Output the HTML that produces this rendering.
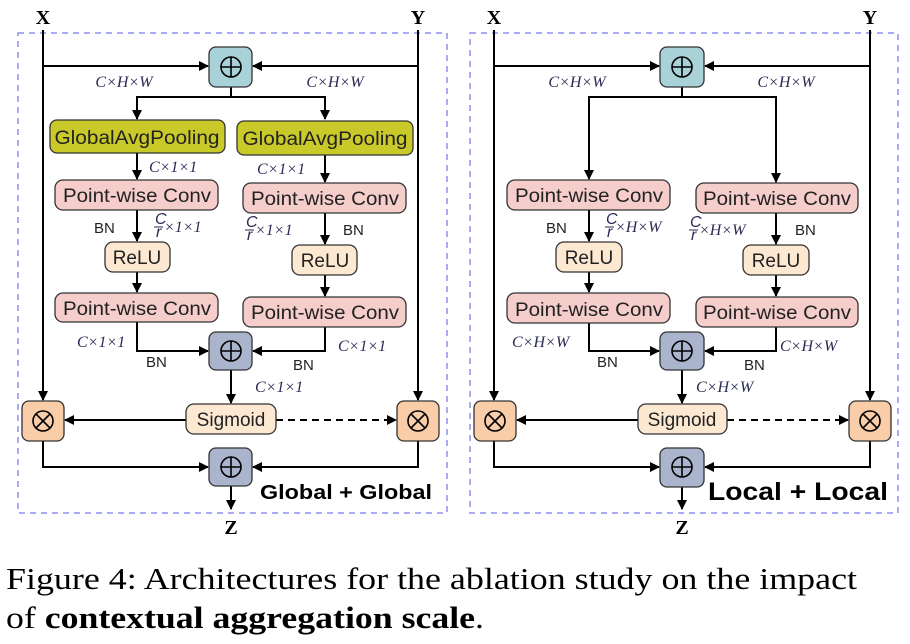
<!DOCTYPE html>
<html><head><meta charset="utf-8"><style>
html,body{margin:0;padding:0;background:#fff;width:910px;height:644px;overflow:hidden}
svg text{font-family:"Liberation Sans",sans-serif}
.s{font-family:"Liberation Serif",serif}
.m{font-family:"Liberation Serif",serif;font-style:italic;font-size:16px;fill:#2a2a55}
.b{font-size:15px;fill:#222}
.n{font-size:19px;fill:#222}
</style></head><body>
<svg width="910" height="644" viewBox="0 0 910 644" xmlns="http://www.w3.org/2000/svg">
<defs>
<marker id="a" viewBox="0 0 10 10" refX="9" refY="5" markerWidth="5" markerHeight="5" orient="auto"><path d="M0,0 L10,5 L0,10 z" fill="#000"/></marker>
<g id="plus"><circle cx="0" cy="0" r="10" fill="none" stroke="#000" stroke-width="1.6"/><line x1="-10" y1="0" x2="10" y2="0" stroke="#000" stroke-width="1.6"/><line x1="0" y1="-10" x2="0" y2="10" stroke="#000" stroke-width="1.6"/></g>
<g id="mul"><circle cx="0" cy="0" r="10" fill="none" stroke="#000" stroke-width="1.6"/><line x1="-7" y1="-7" x2="7" y2="7" stroke="#000" stroke-width="1.6"/><line x1="7" y1="-7" x2="-7" y2="7" stroke="#000" stroke-width="1.6"/></g>
</defs>

<!-- LEFT PANEL -->
<rect x="18" y="33" width="429" height="480" fill="none" stroke="#8f8ff0" stroke-width="1.5" stroke-dasharray="6,5"/>
<g stroke="#000" stroke-width="2" fill="none">
<line x1="43" y1="30" x2="43" y2="400" marker-end="url(#a)"/>
<line x1="418" y1="30" x2="418" y2="400" marker-end="url(#a)"/>
<line x1="43" y1="66" x2="208" y2="66" marker-end="url(#a)"/>
<line x1="418" y1="66" x2="253" y2="66" marker-end="url(#a)"/>
<polyline points="231,87 231,97 137,97 137,119" marker-end="url(#a)"/>
<polyline points="231,97 325,97 325,119" marker-end="url(#a)"/>
<line x1="137" y1="153" x2="137" y2="179" marker-end="url(#a)"/>
<line x1="325" y1="155" x2="325" y2="182" marker-end="url(#a)"/>
<line x1="137" y1="210" x2="137" y2="241" marker-end="url(#a)"/>
<line x1="325" y1="213" x2="325" y2="244" marker-end="url(#a)"/>
<line x1="137" y1="272" x2="137" y2="292" marker-end="url(#a)"/>
<line x1="325" y1="275" x2="325" y2="296" marker-end="url(#a)"/>
<polyline points="137,322 137,351 208,351" marker-end="url(#a)"/>
<polyline points="325,327 325,351 253,351" marker-end="url(#a)"/>
<line x1="231" y1="370" x2="231" y2="403" marker-end="url(#a)"/>
<line x1="186" y1="420" x2="65" y2="420" marker-end="url(#a)"/>
<line x1="276" y1="420" x2="396" y2="420" stroke-dasharray="7,5" marker-end="url(#a)"/>
<polyline points="43,441 43,467 208,467" marker-end="url(#a)"/>
<polyline points="418,441 418,467 253,467" marker-end="url(#a)"/>
<line x1="231" y1="486" x2="231" y2="509" marker-end="url(#a)"/>
</g>
<g stroke="#333" stroke-width="1.3">
<rect x="209" y="47" width="43" height="40" rx="7" fill="#a9d2d8"/>
<rect x="50" y="120" width="175" height="33" rx="7" fill="#c9c92a"/>
<rect x="237" y="121" width="176" height="34" rx="7" fill="#c9c92a"/>
<rect x="55" y="180" width="163" height="30" rx="8" fill="#f5cdcb"/>
<rect x="243" y="183" width="163" height="30" rx="8" fill="#f5cdcb"/>
<rect x="105" y="242" width="65" height="30" rx="8" fill="#fde8d2"/>
<rect x="292" y="245" width="65" height="30" rx="8" fill="#fde8d2"/>
<rect x="55" y="293" width="163" height="29" rx="8" fill="#f5cdcb"/>
<rect x="243" y="297" width="163" height="30" rx="8" fill="#f5cdcb"/>
<rect x="209" y="332" width="43" height="38" rx="7" fill="#aab4cc"/>
<rect x="186" y="404" width="90" height="30" rx="8" fill="#fde8d2"/>
<rect x="22" y="401" width="42" height="40" rx="7" fill="#f8cda8"/>
<rect x="397" y="401" width="42" height="40" rx="7" fill="#f8cda8"/>
<rect x="209" y="448" width="43" height="38" rx="7" fill="#aab4cc"/>
</g>
<use href="#plus" x="231" y="67"/><use href="#plus" x="231" y="351"/><use href="#plus" x="231" y="467"/>
<use href="#mul" x="43" y="421"/><use href="#mul" x="418" y="421"/>
<text x="43" y="24" class="s" font-size="20" font-weight="bold" text-anchor="middle">X</text>
<text x="418" y="24" class="s" font-size="20" font-weight="bold" text-anchor="middle">Y</text>
<text x="231" y="534" class="s" font-size="20" font-weight="bold" text-anchor="middle">Z</text>
<text x="124" y="87" class="m" text-anchor="middle">C×H×W</text>
<text x="335" y="87" class="m" text-anchor="middle">C×H×W</text>
<text x="137" y="144" class="n" text-anchor="middle" textLength="165" lengthAdjust="spacingAndGlyphs">GlobalAvgPooling</text>
<text x="325" y="145" class="n" text-anchor="middle" textLength="165" lengthAdjust="spacingAndGlyphs">GlobalAvgPooling</text>
<text x="149" y="172" class="m">C×1×1</text>
<text x="257" y="174" class="m">C×1×1</text>
<text x="137" y="202" class="n" text-anchor="middle" textLength="148" lengthAdjust="spacingAndGlyphs">Point-wise Conv</text>
<text x="325" y="205" class="n" text-anchor="middle" textLength="148" lengthAdjust="spacingAndGlyphs">Point-wise Conv</text>
<text x="94" y="233" class="b">BN</text>
<text x="343" y="235" class="b">BN</text>
<g class="m" font-size="11"><text x="155" y="224">C</text><text x="156" y="237">r</text><text x="246" y="227">C</text><text x="247" y="240">r</text></g>
<line x1="154" y1="227" x2="163" y2="227" stroke="#2a2a55"/><line x1="245" y1="230" x2="254" y2="230" stroke="#2a2a55"/>
<text x="164" y="232" class="m">×1×1</text>
<text x="255" y="235" class="m">×1×1</text>
<text x="137" y="264" class="n" text-anchor="middle">ReLU</text>
<text x="325" y="267" class="n" text-anchor="middle">ReLU</text>
<text x="137" y="315" class="n" text-anchor="middle" textLength="148" lengthAdjust="spacingAndGlyphs">Point-wise Conv</text>
<text x="325" y="319" class="n" text-anchor="middle" textLength="148" lengthAdjust="spacingAndGlyphs">Point-wise Conv</text>
<text x="77" y="347" class="m">C×1×1</text>
<text x="338" y="351" class="m">C×1×1</text>
<text x="146" y="367" class="b">BN</text>
<text x="293" y="370" class="b">BN</text>
<text x="255" y="392" class="m">C×1×1</text>
<text x="231" y="426" class="n" text-anchor="middle">Sigmoid</text>
<text x="260" y="499" font-size="20" font-weight="bold" textLength="172" lengthAdjust="spacingAndGlyphs">Global + Global</text>

<!-- RIGHT PANEL -->
<rect x="470" y="33" width="428" height="480" fill="none" stroke="#8f8ff0" stroke-width="1.5" stroke-dasharray="6,5"/>
<g stroke="#000" stroke-width="2" fill="none">
<line x1="494" y1="30" x2="494" y2="400" marker-end="url(#a)"/>
<line x1="870" y1="30" x2="870" y2="400" marker-end="url(#a)"/>
<line x1="494" y1="66" x2="659" y2="66" marker-end="url(#a)"/>
<line x1="870" y1="66" x2="705" y2="66" marker-end="url(#a)"/>
<polyline points="682,87 682,97 589,97 589,179" marker-end="url(#a)"/>
<polyline points="682,97 776,97 776,182" marker-end="url(#a)"/>
<line x1="589" y1="210" x2="589" y2="241" marker-end="url(#a)"/>
<line x1="776" y1="213" x2="776" y2="244" marker-end="url(#a)"/>
<line x1="589" y1="272" x2="589" y2="292" marker-end="url(#a)"/>
<line x1="776" y1="275" x2="776" y2="296" marker-end="url(#a)"/>
<polyline points="589,323 589,351 659,351" marker-end="url(#a)"/>
<polyline points="776,327 776,351 705,351" marker-end="url(#a)"/>
<line x1="682" y1="370" x2="682" y2="403" marker-end="url(#a)"/>
<line x1="638" y1="420" x2="517" y2="420" marker-end="url(#a)"/>
<line x1="727" y1="420" x2="848" y2="420" stroke-dasharray="7,5" marker-end="url(#a)"/>
<polyline points="494,441 494,467 659,467" marker-end="url(#a)"/>
<polyline points="870,441 870,467 705,467" marker-end="url(#a)"/>
<line x1="682" y1="487" x2="682" y2="509" marker-end="url(#a)"/>
</g>
<g stroke="#333" stroke-width="1.3">
<rect x="660" y="47" width="44" height="40" rx="7" fill="#a9d2d8"/>
<rect x="507" y="180" width="163" height="30" rx="8" fill="#f5cdcb"/>
<rect x="696" y="183" width="162" height="30" rx="8" fill="#f5cdcb"/>
<rect x="556" y="242" width="66" height="30" rx="8" fill="#fde8d2"/>
<rect x="743" y="245" width="66" height="30" rx="8" fill="#fde8d2"/>
<rect x="507" y="293" width="163" height="30" rx="8" fill="#f5cdcb"/>
<rect x="696" y="297" width="162" height="30" rx="8" fill="#f5cdcb"/>
<rect x="660" y="332" width="44" height="38" rx="7" fill="#aab4cc"/>
<rect x="638" y="404" width="89" height="30" rx="8" fill="#fde8d2"/>
<rect x="474" y="401" width="42" height="40" rx="7" fill="#f8cda8"/>
<rect x="849" y="401" width="42" height="40" rx="7" fill="#f8cda8"/>
<rect x="660" y="448" width="44" height="39" rx="7" fill="#aab4cc"/>
</g>
<use href="#plus" x="682" y="67"/><use href="#plus" x="682" y="351"/><use href="#plus" x="682" y="467"/>
<use href="#mul" x="495" y="421"/><use href="#mul" x="870" y="421"/>
<text x="494" y="24" class="s" font-size="20" font-weight="bold" text-anchor="middle">X</text>
<text x="870" y="24" class="s" font-size="20" font-weight="bold" text-anchor="middle">Y</text>
<text x="682" y="534" class="s" font-size="20" font-weight="bold" text-anchor="middle">Z</text>
<text x="577" y="87" class="m" text-anchor="middle">C×H×W</text>
<text x="786" y="87" class="m" text-anchor="middle">C×H×W</text>
<text x="589" y="202" class="n" text-anchor="middle" textLength="148" lengthAdjust="spacingAndGlyphs">Point-wise Conv</text>
<text x="777" y="205" class="n" text-anchor="middle" textLength="148" lengthAdjust="spacingAndGlyphs">Point-wise Conv</text>
<text x="546" y="233" class="b">BN</text>
<text x="795" y="235" class="b">BN</text>
<g class="m" font-size="11"><text x="606" y="224">C</text><text x="607" y="237">r</text><text x="690" y="227">C</text><text x="691" y="240">r</text></g>
<line x1="605" y1="227" x2="614" y2="227" stroke="#2a2a55"/><line x1="689" y1="230" x2="698" y2="230" stroke="#2a2a55"/>
<text x="615" y="232" class="m">×H×W</text>
<text x="699" y="235" class="m">×H×W</text>
<text x="589" y="264" class="n" text-anchor="middle">ReLU</text>
<text x="776" y="267" class="n" text-anchor="middle">ReLU</text>
<text x="589" y="316" class="n" text-anchor="middle" textLength="148" lengthAdjust="spacingAndGlyphs">Point-wise Conv</text>
<text x="777" y="319" class="n" text-anchor="middle" textLength="148" lengthAdjust="spacingAndGlyphs">Point-wise Conv</text>
<text x="512" y="347" class="m">C×H×W</text>
<text x="780" y="351" class="m">C×H×W</text>
<text x="597" y="367" class="b">BN</text>
<text x="744" y="370" class="b">BN</text>
<text x="696" y="392" class="m">C×H×W</text>
<text x="682" y="426" class="n" text-anchor="middle">Sigmoid</text>
<text x="708" y="500" font-size="25" font-weight="bold" textLength="180" lengthAdjust="spacingAndGlyphs">Local + Local</text>

<!-- CAPTION -->
<text x="6" y="589" class="s" font-size="31" textLength="851" lengthAdjust="spacingAndGlyphs">Figure 4: Architectures for the ablation study on the impact</text>
<text x="6" y="628" class="s" font-size="31" textLength="478" lengthAdjust="spacingAndGlyphs">of <tspan font-weight="bold">contextual aggregation scale</tspan>.</text>
</svg>
</body></html>
